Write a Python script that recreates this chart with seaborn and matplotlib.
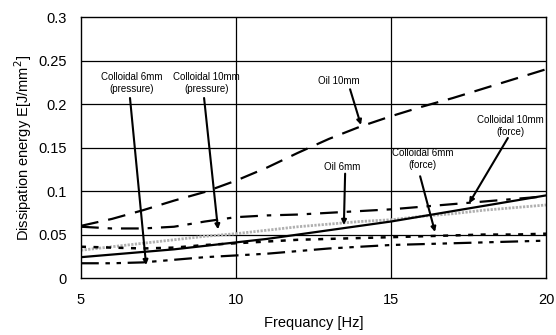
import matplotlib
matplotlib.use("Agg")
import matplotlib.pyplot as plt
import seaborn as sns
import pandas as pd

freq = [5, 6, 7, 8, 9, 10, 11, 12, 13, 14, 15, 16, 17, 18, 19, 20]
oil_10mm = [0.060, 0.068, 0.078, 0.089, 0.099, 0.112, 0.127, 0.144, 0.160, 0.174, 0.186, 0.197, 0.207, 0.218, 0.229, 0.240]
oil_6mm = [0.024, 0.027, 0.030, 0.033, 0.037, 0.041, 0.045, 0.050, 0.055, 0.060, 0.065, 0.071, 0.077, 0.083, 0.089, 0.095]
coll_10mm_force = [0.059, 0.057, 0.057, 0.059, 0.065, 0.070, 0.072, 0.073, 0.075, 0.077, 0.079, 0.082, 0.085, 0.088, 0.091, 0.094]
coll_10mm_pressure = [0.032, 0.036, 0.040, 0.044, 0.048, 0.051, 0.055, 0.059, 0.062, 0.065, 0.067, 0.071, 0.074, 0.078, 0.081, 0.084]
coll_6mm_force = [0.036, 0.035, 0.034, 0.035, 0.038, 0.040, 0.042, 0.044, 0.045, 0.046, 0.047, 0.048, 0.049, 0.050, 0.050, 0.051]
coll_6mm_pressure = [0.017, 0.017, 0.018, 0.021, 0.024, 0.026, 0.028, 0.031, 0.034, 0.036, 0.038, 0.039, 0.040, 0.041, 0.042, 0.043]

x_ticks = [5, 10, 15, 20]
y_ticks = [0, 0.05, 0.1, 0.15, 0.2, 0.25, 0.3]
y_tick_labels = ["0", "0.05", "0.1", "0.15", "0.2", "0.25", "0.3"]

labels = ["Colloidal 6mm\n(pressure)", "Colloidal 10mm\n(pressure)", "Oil 10mm",
          "Oil 6mm", "Colloidal 6mm\n(force)", "Colloidal 10mm\n(force)"]

sns.set_style("white")
plt.rcParams['font.family'] = ['Liberation Sans', 'DejaVu Sans']

fig = plt.figure(figsize=(5.56, 3.35), dpi=100)
ax = fig.add_axes([0.1457, 0.170, 0.8363, 0.779])

series = [
    (oil_10mm, dict(color="black", lw=1.6, linestyle=(0, (8, 4.5)))),
    (coll_10mm_force, dict(color="black", lw=1.6, linestyle=(0, (8, 4, 2, 4)))),
    (coll_10mm_pressure, dict(color="#b0b0b0", lw=2.0, linestyle=(0, (0.8, 0.5)))),
    (oil_6mm, dict(color="black", lw=1.6, linestyle="-")),
    (coll_6mm_force, dict(color="black", lw=1.8, linestyle=(0, (2, 3)))),
    (coll_6mm_pressure, dict(color="black", lw=1.6, linestyle=(0, (8, 3, 2, 3, 2, 3)))),
]
for vals, st in series:
    df = pd.DataFrame({"f": freq, "E": vals})
    sns.lineplot(data=df, x="f", y="E", ax=ax, **st)

ax.set_xlim(5, 20)
ax.set_ylim(0, 0.3)
ax.set_xticks(x_ticks)
ax.set_xticklabels([str(t) for t in x_ticks])
ax.set_yticks(y_ticks)
ax.set_yticklabels(y_tick_labels)
for v in y_ticks[1:-1]:
    ax.axhline(v, color="black", lw=0.9, zorder=0)
for v in x_ticks[1:-1]:
    ax.axvline(v, color="black", lw=0.9, zorder=0)
for s in ax.spines.values():
    s.set_color("black")
    s.set_linewidth(1.0)
ax.tick_params(axis="both", length=0, labelsize=10.5, colors="black")
ax.tick_params(axis="y", pad=10)
ax.tick_params(axis="x", pad=11)
ax.set_xlabel("Frequancy [Hz]", fontsize=10.5, color="black", labelpad=6)
ax.set_ylabel("Dissipation energy E[J/mm$^2$]", fontsize=10.5, color="black", labelpad=3)

ann = [
    (labels[0], (6.64, 0.224), (6.58, 0.207), (7.10, 0.015)),
    (labels[1], (9.05, 0.224), (8.97, 0.207), (9.42, 0.056)),
    (labels[2], (13.32, 0.2264), (13.68, 0.217), (14.03, 0.176)),
    (labels[3], (13.42, 0.1276), (13.52, 0.120), (13.48, 0.061)),
    (labels[4], (16.03, 0.137), (15.94, 0.117), (16.42, 0.053)),
    (labels[5], (18.84, 0.175), (18.77, 0.161), (17.52, 0.086)),
]
for txt, tpos, start, tip in ann:
    ax.text(tpos[0], tpos[1], txt, ha="center", va="center", fontsize=7.0,
            linespacing=1.2, color="black")
    ax.annotate("", xy=tip, xytext=start,
                arrowprops=dict(arrowstyle="-|>", color="black", lw=1.5,
                                mutation_scale=7, shrinkA=0, shrinkB=0))

fig.savefig("out.png", dpi=100)
